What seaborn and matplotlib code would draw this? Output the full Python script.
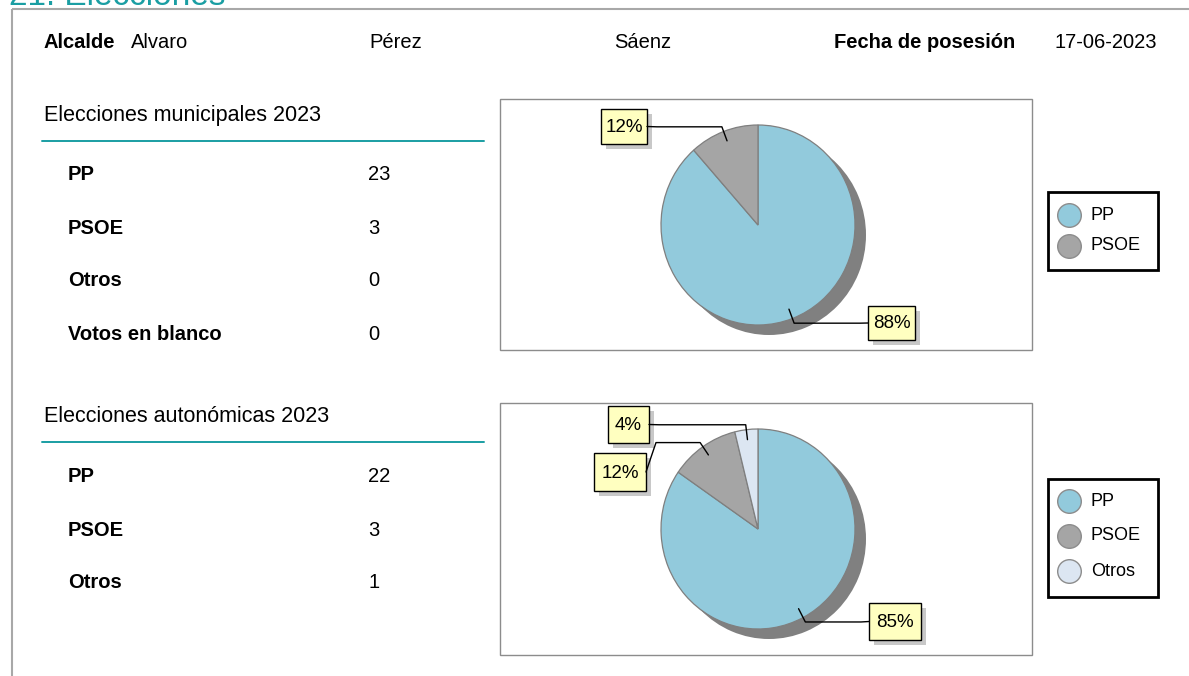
import numpy as np
import matplotlib
matplotlib.use("Agg")
import matplotlib.pyplot as plt
from matplotlib.patches import Rectangle
import seaborn as sns

# ---------------- data ----------------
title = "21. Elecciones"
alcalde_nombre = ["Alvaro", "Pérez", "Sáenz"]
fecha_posesion = "17-06-2023"

mun_title = "Elecciones municipales 2023"
mun_parties = ["PP", "PSOE", "Otros", "Votos en blanco"]
mun_seats = [23, 3, 0, 0]

aut_title = "Elecciones autonómicas 2023"
aut_parties = ["PP", "PSOE", "Otros"]
aut_seats = [22, 3, 1]

party_colors = {"PP": "#92CADC", "PSOE": "#A5A5A5", "Otros": "#DCE6F2",
                "Votos en blanco": "#FFFFFF"}

# ---------------- style ----------------
sns.set_theme(style="white")
plt.rcParams["font.family"] = ["Liberation Sans", "DejaVu Sans"]
plt.rcParams["text.color"] = "black"

W, H = 1189, 676
fig = plt.figure(figsize=(W / 100, H / 100), dpi=100)
fig.patch.set_facecolor("white")

# overlay axes in pixel coordinates
ov = fig.add_axes([0, 0, 1, 1], zorder=5)
ov.set_xlim(0, W)
ov.set_ylim(H, 0)
ov.axis("off")
ov.patch.set_alpha(0)

TEAL = "#1A9EA3"
FS = 14.5

# title (cut at top)
ov.text(9, 5, title, color=TEAL, fontsize=24, va="baseline", ha="left")
# frame lines
ov.plot([12, W], [9, 9], color="#A8A8A8", lw=1.5, solid_capstyle="butt")
ov.plot([12, 12], [9, H], color="#A8A8A8", lw=1.5, solid_capstyle="butt")

# header row
ov.text(43, 41, "Alcalde", fontsize=FS, fontweight="bold", va="center_baseline")
for x, t in zip([131, 369, 614], alcalde_nombre):
    ov.text(x, 41, t, fontsize=FS, va="center_baseline")
ov.text(834, 41, "Fecha de posesión", fontsize=FS, fontweight="bold", va="center_baseline")
ov.text(1054, 41, fecha_posesion, fontsize=FS, va="center_baseline")


def section(ytitle, sec_title, parties, seats, row_y):
    ov.text(44, ytitle, sec_title, fontsize=15.5, va="center_baseline")
    ov.plot([42, 484], [ytitle + 28, ytitle + 28], color=TEAL, lw=1.4)
    for y, p, s in zip(row_y, parties, seats):
        ov.text(68, y, p, fontsize=FS, fontweight="bold", va="center_baseline")
        ov.text(368, y, str(s), fontsize=FS, va="center_baseline")


section(113, mun_title, mun_parties, mun_seats, [172, 226, 279, 332])
section(414, aut_title, aut_parties, aut_seats, [474, 528, 581])

RX, RY = 97.0, 100.0


def pie_panel(box, center, parties, seats, label_boxes, legend_box, leg_rows):
    bx0, by0, bx1, by1 = box
    cx, cy = center
    names = [p for p, s in zip(parties, seats) if s > 0]
    vals = [s for s in seats if s > 0]
    cols = [party_colors[p] for p in names]

    ax = fig.add_axes([bx0 / W, 1 - by1 / H, (bx1 - bx0) / W, (by1 - by0) / H], zorder=2)
    ax.pie([1], colors=["#808080"], radius=1, center=(11 / RX, -10 / RY),
           wedgeprops=dict(linewidth=0))
    wedges, _ = ax.pie(vals, colors=cols, startangle=90, counterclock=False,
                       radius=1, wedgeprops=dict(edgecolor="#7F7F7F", linewidth=0.9))
    ax.set_aspect("auto")
    ax.set_xlim(-(cx - bx0) / RX, (bx1 - cx) / RX)
    ax.set_ylim(-(by1 - cy) / RY, (cy - by0) / RY)
    ax.axis("off")

    # panel border
    ov.add_patch(Rectangle((bx0, by0), bx1 - bx0, by1 - by0, fill=False,
                           edgecolor="#8C8C8C", lw=1.0))

    total = float(sum(vals))
    for w, v, lb in zip(wedges, vals, label_boxes):
        pct = f"{round(100 * v / total):d}%"
        mid = np.deg2rad((w.theta1 + w.theta2) / 2)
        p_in = (cx + 0.9 * RX * np.cos(mid), cy - 0.9 * RY * np.sin(mid))
        p_out = (cx + 1.05 * RX * np.cos(mid), cy - 1.05 * RY * np.sin(mid))
        lx0, ly0, lx1, ly1 = lb
        ymid = (ly0 + ly1) / 2
        if lx1 < cx:
            edge_x = lx1
            elbow_x = edge_x + 10
        else:
            edge_x = lx0
            elbow_x = edge_x - 8
        xs = [p_in[0], p_out[0], elbow_x, edge_x]
        ys = [p_in[1], p_out[1], p_out[1], ymid]
        ov.plot(xs, ys, color="black", lw=1.0)
        ov.add_patch(Rectangle((lx0 + 5, ly0 + 5), lx1 - lx0, ly1 - ly0,
                               facecolor="#C8C8C8", edgecolor="none"))
        ov.add_patch(Rectangle((lx0, ly0), lx1 - lx0, ly1 - ly0,
                               facecolor="#FFFFC0", edgecolor="black", lw=1.0))
        ov.text((lx0 + lx1) / 2, ymid + 1, pct, fontsize=13.5, ha="center", va="center")

    # legend
    lx0, ly0, lx1, ly1 = legend_box
    ov.add_patch(Rectangle((lx0, ly0), lx1 - lx0, ly1 - ly0, fill=False,
                           edgecolor="black", lw=2.0))
    for y, n, c in zip(leg_rows, names, cols):
        ov.plot([lx0 + 21], [y], marker="o", markersize=17, markerfacecolor=c,
                markeredgecolor="#8C8C8C", markeredgewidth=1.0, linestyle="")
        ov.text(lx0 + 43, y, n, fontsize=13, va="center")


pie_panel((500, 99, 1032, 350), (758, 225), mun_parties, mun_seats,
          [(868, 306, 915, 340), (601, 109, 647, 144)],
          (1048, 192, 1158, 270), [215, 246])

pie_panel((500, 403, 1032, 655), (758, 529), aut_parties, aut_seats,
          [(869, 603, 921, 640), (594, 453, 646, 491), (608, 406, 649, 443)],
          (1048, 479, 1158, 597), [501, 536, 571])

fig.savefig("out.png", dpi=100)
